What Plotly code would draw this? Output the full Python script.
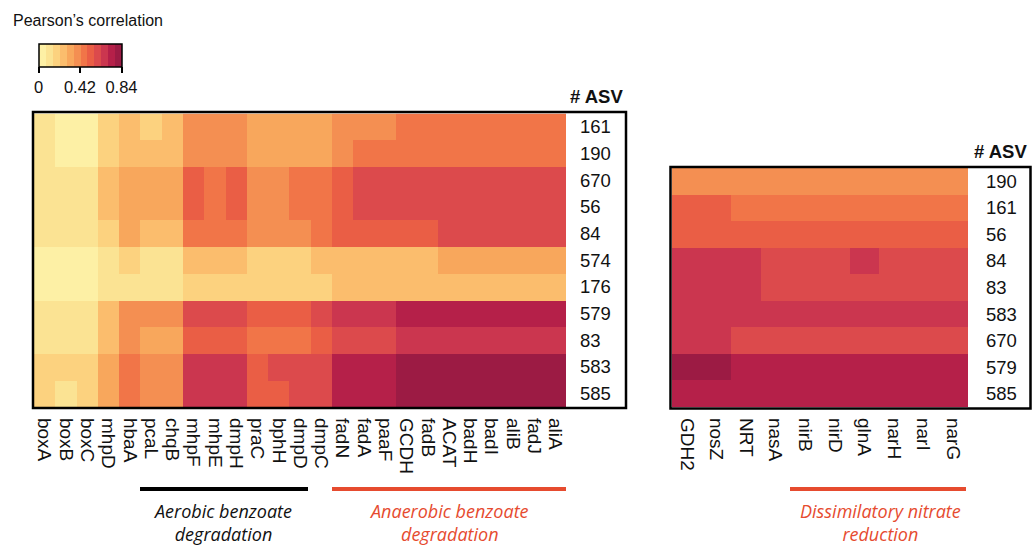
import plotly.graph_objects as go

W, H = 1033, 545

# ---------------- data ----------------
genes_left = ["boxA", "boxB", "boxC", "mhpD", "hbaA", "pcaL", "chqB", "mhpF", "mhpE",
              "dmpH", "praC", "bphH", "dmpD", "dmpC", "fadN", "fadA", "paaF", "GCDH",
              "fadB", "ACAT", "badH", "badI", "aliB", "fadJ", "aliA"]
asv_left = ["161", "190", "670", "56", "84", "574", "176", "579", "83", "583", "585"]

r_left = [
    [.11, .04, .04, .17, .25, .17, .25, .39, .39, .39, .32, .32, .32, .32, .39, .39, .39, .46, .46, .46, .46, .46, .46, .46, .46],
    [.11, .04, .04, .17, .25, .25, .25, .39, .39, .39, .32, .32, .32, .32, .39, .46, .46, .46, .46, .46, .46, .46, .46, .46, .46],
    [.11, .11, .11, .25, .32, .32, .32, .53, .46, .53, .39, .39, .46, .46, .53, .60, .60, .60, .60, .60, .60, .60, .60, .60, .60],
    [.11, .11, .11, .25, .32, .32, .32, .53, .46, .53, .39, .39, .46, .46, .53, .60, .60, .60, .60, .60, .60, .60, .60, .60, .60],
    [.11, .11, .11, .17, .32, .25, .25, .46, .46, .46, .39, .39, .39, .46, .53, .53, .53, .53, .53, .60, .60, .60, .60, .60, .60],
    [.04, .04, .04, .11, .17, .11, .11, .25, .25, .25, .17, .17, .17, .25, .25, .25, .25, .25, .25, .32, .32, .32, .32, .32, .32],
    [.04, .04, .04, .11, .11, .11, .11, .17, .17, .17, .17, .17, .17, .17, .25, .25, .25, .25, .25, .25, .25, .25, .25, .25, .25],
    [.11, .11, .11, .25, .39, .39, .39, .60, .60, .60, .53, .53, .53, .60, .67, .67, .67, .74, .74, .74, .74, .74, .74, .74, .74],
    [.11, .11, .11, .25, .39, .32, .32, .53, .53, .53, .46, .46, .46, .53, .60, .60, .60, .67, .67, .67, .67, .67, .67, .67, .67],
    [.17, .17, .17, .32, .46, .39, .39, .67, .67, .67, .53, .60, .60, .60, .74, .74, .74, .81, .81, .81, .81, .81, .81, .81, .81],
    [.17, .11, .17, .32, .46, .39, .39, .67, .67, .67, .53, .53, .60, .60, .74, .74, .74, .81, .81, .81, .81, .81, .81, .81, .81],
]

genes_right = ["GDH2", "nosZ", "NRT", "nasA", "nirB", "nirD", "glnA", "narH", "narI", "narG"]
asv_right = ["190", "161", "56", "84", "83", "583", "670", "579", "585"]

r_right = [
    [.39, .39, .39, .39, .39, .39, .39, .39, .39, .39],
    [.53, .53, .46, .46, .46, .46, .46, .46, .46, .46],
    [.53, .53, .53, .53, .53, .53, .53, .53, .53, .53],
    [.67, .67, .67, .60, .60, .60, .67, .60, .60, .60],
    [.67, .67, .67, .60, .60, .60, .60, .60, .60, .60],
    [.67, .67, .67, .67, .67, .67, .67, .67, .67, .67],
    [.67, .67, .60, .60, .60, .60, .60, .60, .60, .60],
    [.81, .81, .74, .74, .74, .74, .74, .74, .74, .74],
    [.74, .74, .74, .74, .74, .74, .74, .74, .74, .74],
]

cbar_ticks = [0, 0.42, 0.84]
cbar_ticktext = ["0", "0.42", "0.84"]

# ---------------- style ----------------
palette = ["#fdf0a5", "#fbe393", "#fcd27f", "#fbbd6d", "#f8a75c", "#f48f52",
           "#f17548", "#ea5e45", "#dc4a4c", "#cb364f", "#b52049", "#9c1b44"]
n = len(palette)
cscale = []
for k, c in enumerate(palette):
    cscale.append([k / n, c])
    cscale.append([(k + 1) / n, c])

RED = "#e64b2f"
FONT = "Liberation Sans, Arial, sans-serif"
IFONT = "Open Sans, sans-serif"


def px(x):
    return x / W


def py(y):
    return 1 - y / H


fig = go.Figure()
fig.add_trace(go.Heatmap(z=r_left, x=genes_left, y=asv_left, coloraxis="coloraxis",
                         xaxis="x", yaxis="y", hovertemplate="%{x} / ASV %{y}: %{z}<extra></extra>"))
fig.add_trace(go.Heatmap(z=r_right, x=genes_right, y=asv_right, coloraxis="coloraxis",
                         xaxis="x2", yaxis="y2", hovertemplate="%{x} / ASV %{y}: %{z}<extra></extra>"))

xcommon = dict(type="category", tickangle=90, showgrid=False, zeroline=False, showline=False,
               ticks="", tickfont=dict(family=FONT, size=19, color="#111"), ticklabelstandoff=10,
               fixedrange=True)
ycommon = dict(type="category", autorange="reversed", side="right", showgrid=False,
               zeroline=False, showline=False, ticks="",
               tickfont=dict(family=FONT, size=18.5, color="#111"), fixedrange=True)

fig.update_layout(
    width=W, height=H,
    margin=dict(l=0, r=0, t=0, b=0),
    paper_bgcolor="white", plot_bgcolor="white",
    font=dict(family=FONT, color="#111"),
    xaxis=dict(domain=[px(34), px(566)], anchor="y", tickmode="array",
               tickvals=genes_left, ticktext=genes_left, **xcommon),
    yaxis=dict(domain=[py(407), py(113.5)], anchor="x", ticklabelstandoff=13,
               tickmode="array", tickvals=asv_left, ticktext=asv_left, **ycommon),
    xaxis2=dict(domain=[px(672), px(968)], anchor="y2", tickmode="array",
                tickvals=genes_right, ticktext=genes_right, **xcommon),
    yaxis2=dict(domain=[py(407), py(168)], anchor="x2", ticklabelstandoff=17,
                tickmode="array", tickvals=asv_right, ticktext=asv_right, **ycommon),
    coloraxis=dict(
        cmin=0, cmax=0.84, colorscale=cscale,
        colorbar=dict(orientation="h", x=px(38.5), xanchor="left", y=py(44), yanchor="top",
                      len=83, lenmode="pixels", thickness=23, thicknessmode="pixels",
                      xpad=0, ypad=0, outlinewidth=1.5, outlinecolor="black",
                      ticks="outside", ticklen=6, tickwidth=1.5, tickcolor="black",
                      tickvals=cbar_ticks, ticktext=cbar_ticktext,
                      tickfont=dict(family=FONT, size=16.5, color="#111")),
    ),
    showlegend=False,
)

shapes = [
    dict(type="rect", xref="paper", yref="paper", x0=px(33), x1=px(626), y0=py(408), y1=py(112),
         line=dict(color="black", width=2.5)),
    dict(type="rect", xref="paper", yref="paper", x0=px(670.5), x1=px(1030.5), y0=py(408.5), y1=py(167),
         line=dict(color="black", width=2.5)),
    dict(type="line", xref="paper", yref="paper", x0=px(140), x1=px(308), y0=py(489), y1=py(489),
         line=dict(color="black", width=4)),
    dict(type="line", xref="paper", yref="paper", x0=px(332), x1=px(566), y0=py(489), y1=py(489),
         line=dict(color=RED, width=4)),
    dict(type="line", xref="paper", yref="paper", x0=px(790), x1=px(966), y0=py(489), y1=py(489),
         line=dict(color=RED, width=4)),
]
fig.update_layout(shapes=shapes)

ann = [
    dict(text="Pearson’s correlation", x=px(11), y=py(20), xanchor="left", yanchor="middle",
         font=dict(family=FONT, size=16, color="#111")),
    dict(text="<b># ASV</b>", x=px(596), y=py(97), xanchor="center", yanchor="middle",
         font=dict(family=FONT, size=18.5, color="#111")),
    dict(text="<b># ASV</b>", x=px(1000), y=py(151), xanchor="center", yanchor="middle",
         font=dict(family=FONT, size=18.5, color="#111")),
    dict(text="<i>Aerobic benzoate<br>degradation</i>", x=px(222), y=py(522), xanchor="center",
         yanchor="middle", font=dict(family=IFONT, size=18, color="#111")),
    dict(text="<i>Anaerobic benzoate<br>degradation</i>", x=px(449), y=py(522), xanchor="center",
         yanchor="middle", font=dict(family=IFONT, size=18, color=RED)),
    dict(text="<i>Dissimilatory nitrate<br>reduction</i>", x=px(880), y=py(522), xanchor="center",
         yanchor="middle", font=dict(family=IFONT, size=18, color=RED)),
]
for a in ann:
    a.update(xref="paper", yref="paper", showarrow=False)
fig.update_layout(annotations=ann)

fig.write_html("out.html", config={"displayModeBar": False},
               post_script="document.body.style.margin='0';")
